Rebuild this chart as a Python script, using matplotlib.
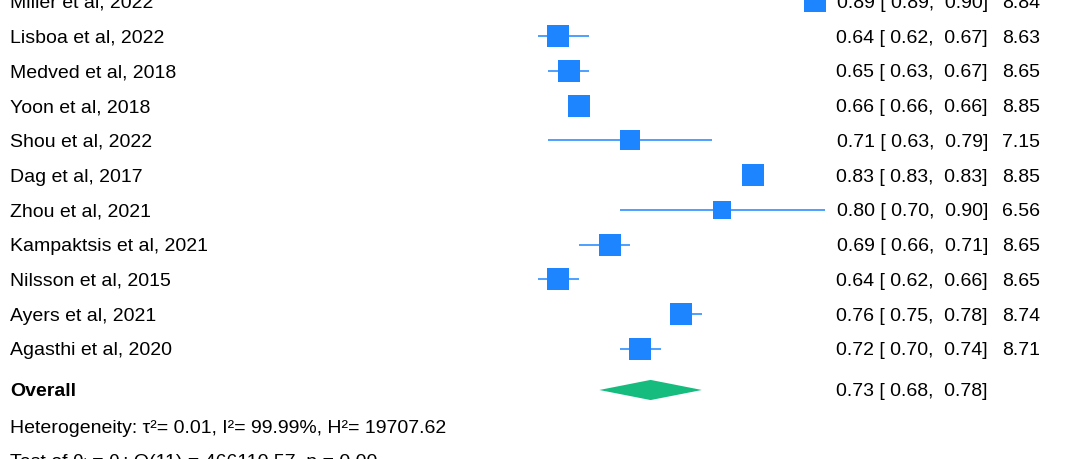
import matplotlib
matplotlib.use('Agg')
import matplotlib.pyplot as plt
import matplotlib.transforms as mtransforms
import numpy as np

plt.rcParams['font.family'] = ['Liberation Sans', 'DejaVu Sans']

# Study data
studies = ['Miller et al, 2022', 'Lisboa et al, 2022', 'Medved et al, 2018',
           'Yoon et al, 2018', 'Shou et al, 2022', 'Dag et al, 2017',
           'Zhou et al, 2021', 'Kampaktsis et al, 2021', 'Nilsson et al, 2015',
           'Ayers et al, 2021', 'Agasthi et al, 2020']
est = [0.89, 0.64, 0.65, 0.66, 0.71, 0.83, 0.80, 0.69, 0.64, 0.76, 0.72]
lo = [0.89, 0.62, 0.63, 0.66, 0.63, 0.83, 0.70, 0.66, 0.62, 0.75, 0.70]
hi = [0.90, 0.67, 0.67, 0.66, 0.79, 0.83, 0.90, 0.71, 0.66, 0.78, 0.74]
weights = [8.84, 8.63, 8.65, 8.85, 7.15, 8.85, 6.56, 8.65, 8.65, 8.74, 8.71]

overall = [0.73, 0.68, 0.78]
het_text = 'Heterogeneity: τ²= 0.01, I²= 99.99%, H²= 19707.62'
test_text = 'Test of θᵢ = θⱼ: Q(11) = 466110.57, p = 0.00'

blue = '#1c85ff'
green = '#16bb7e'

fig = plt.figure(figsize=(10.8, 4.59), dpi=100)
ax = fig.add_axes([0, 0, 1, 1])
ax.set_xlim(0.0953, 1.1489)
ax.set_ylim(13.166, -0.043)
ax.axis('off')

# blended transform: x in axes fraction, y in data
tr = mtransforms.blended_transform_factory(ax.transAxes, ax.transData)

fs = 14
rows = np.arange(len(studies))
for i in rows:
    ax.hlines(i, lo[i], hi[i], color=blue, lw=1.1)
    ms = 15.5 * np.sqrt(weights[i] / max(weights))
    ax.plot(est[i], i, marker='s', color=blue, ms=ms, mec=blue, mew=0)
    ax.text(0.0093, i, studies[i], transform=tr, fontsize=fs,
            va='center_baseline', ha='left')
    ax.text(0.9148, i, '%.2f [ %.2f,  %.2f]' % (est[i], lo[i], hi[i]),
            transform=tr, fontsize=fs, va='center_baseline', ha='right')
    ax.text(0.963, i, '%.2f' % weights[i], transform=tr, fontsize=fs,
            va='center_baseline', ha='right')

# Overall diamond
oy = 11.18
dh = 0.29
ax.fill([overall[1], overall[0], overall[2], overall[0]],
        [oy, oy - dh, oy, oy + dh], color=green, lw=0)
ax.text(0.0093, oy, 'Overall', transform=tr, fontsize=fs, fontweight='bold',
        va='center_baseline', ha='left')
ax.text(0.9148, oy, '%.2f [ %.2f,  %.2f]' % tuple(overall), transform=tr,
        fontsize=fs, va='center_baseline', ha='right')

ax.text(0.0093, 12.22, het_text, transform=tr, fontsize=fs,
        va='center_baseline', ha='left')
ax.text(0.0093, 13.2, test_text, transform=tr, fontsize=fs,
        va='center_baseline', ha='left')

fig.savefig('out.png', dpi=100)
